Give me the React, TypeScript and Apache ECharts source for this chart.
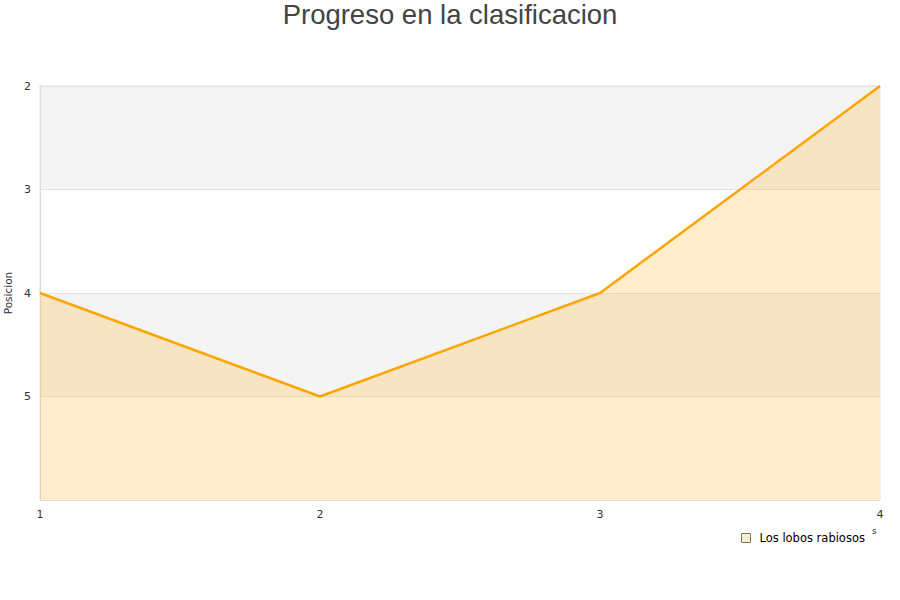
import React, { useEffect, useRef } from "react";
import * as echarts from "echarts";

const jornadas = ["1", "2", "3", "4"];
const posiciones = [4, 5, 4, 2];
const yTicks = [2, 3, 4, 5];
const seriesName = "Los lobos rabiosos";
const titleText = "Progreso en la clasificacion";
const yName = "Posicion";

export default function App() {
  const ref = useRef<HTMLDivElement>(null);
  useEffect(() => {
    if (!ref.current) return;
    const chart = echarts.init(ref.current, undefined, { renderer: "svg" });
    chart.setOption({
      animation: false,
      backgroundColor: "#ffffff",
      title: {
        text: titleText,
        left: "center",
        top: -5,
        textStyle: { fontFamily: "Liberation Sans, Arial, sans-serif", fontSize: 27.5, fontWeight: "normal", color: "#444" },
      },
      grid: { left: 40, right: 20, top: 86, bottom: 100, outerBoundsMode: "none", containLabel: false, show: true, borderColor: "#ddd", borderWidth: 1, backgroundColor: "transparent" },
      legend: {
        data: [seriesName],
        left: 736,
        top: 527,
        itemWidth: 9,
        itemHeight: 9,
        itemGap: 10,
        icon: "rect",
        itemStyle: { color: "#FFEDCC", borderColor: "#777", borderWidth: 1 },
        textStyle: { fontFamily: "DejaVu Sans, sans-serif", fontSize: 11.5, color: "#000", padding: [0, 0, 0, 4] },
      },
      xAxis: {
        type: "category",
        data: jornadas,
        boundaryGap: false,
        axisLine: { show: true, lineStyle: { color: "#ddd" } },
        axisTick: { show: false },
        axisLabel: { color: "#333", fontSize: 11, margin: 9, fontFamily: "DejaVu Sans, sans-serif" },
        splitLine: { show: false },
      },
      yAxis: {
        type: "value",
        inverse: true,
        min: 2,
        max: 6,
        interval: 1,
        name: yName,
        nameLocation: "middle",
        nameGap: 23,
        nameTextStyle: { color: "#333", fontSize: 10.5, fontFamily: "DejaVu Sans, sans-serif" },
        axisLine: { show: true, lineStyle: { color: "#ddd" } },
        axisTick: { show: false },
        axisLabel: {
          color: "#333",
          fontSize: 11,
          margin: 9,
          fontFamily: "DejaVu Sans, sans-serif",
          formatter: (v: number) => (yTicks.includes(v) ? String(v) : ""),
        },
        splitLine: { show: true, lineStyle: { color: "#e3e3e3" } },
        splitArea: { show: true, areaStyle: { color: ["#f4f4f4", "#ffffff"] } },
      },
      graphic: [
        { type: "text", left: 872, top: 526, style: { text: "s", fontSize: 9, fill: "#333", fontFamily: "DejaVu Sans, sans-serif" } },
      ],
      series: [
        {
          name: seriesName,
          type: "line",
          data: posiciones,
          showSymbol: false,
          symbol: "none",
          lineStyle: { color: "#FFA500", width: 2.5 },
          itemStyle: { color: "#FFEDCC" },
          areaStyle: { color: "rgba(255,165,0,0.2)", origin: "end", opacity: 1 },
        },
      ],
    });
    return () => chart.dispose();
  }, []);
  return <div ref={ref} style={{ width: 900, height: 600, position: "absolute", left: 0, top: 0 }} />;
}
